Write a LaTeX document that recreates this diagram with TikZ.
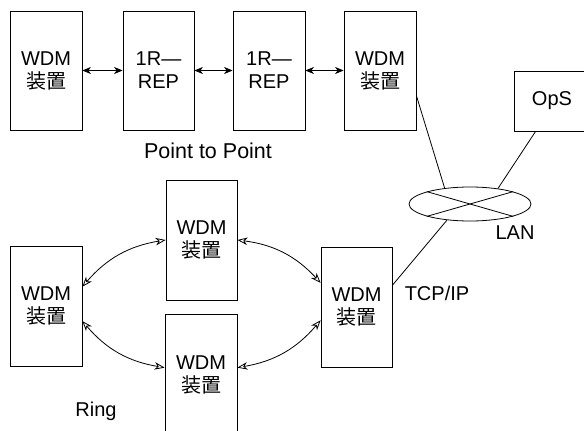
\documentclass[tikz,border=0pt]{standalone}
\usepackage{fontspec}
\setmainfont{Liberation Sans}
\newfontfamily\jpfont{Noto Sans CJK JP}
\usetikzlibrary{arrows.meta,shapes.geometric,calc}

\begin{document}
\begin{tikzpicture}[x=1pt,y=-1pt,
  unit/.style={draw, line width=0.8pt, inner sep=0pt, align=center,
    minimum width=72pt, minimum height=120pt,
    font=\fontsize{20}{23}\selectfont},
  lbl/.style={inner sep=0pt, font=\fontsize{20}{23}\selectfont},
  link/.style={line width=0.8pt},
  pp/.style={line width=0.8pt, {Stealth[length=8.5pt,width=7pt,inset=2.5pt]}-{Stealth[length=8.5pt,width=7pt,inset=2.5pt]}},
  ring/.style={line width=0.8pt,
    {Stealth[open,length=10pt,width=7.5pt,inset=3pt]}-{Stealth[open,length=10pt,width=7.5pt,inset=3pt]}}]

% canvas
\fill[white] (0,0) rectangle (584,431);
\useasboundingbox (0,0) rectangle (584,431);

% point-to-point chain
\node[unit, minimum height=119pt] (w1) at (46,70.5) {WDM\\{\jpfont 装置}};
\node[unit, minimum height=119pt, minimum width=71pt] (r1) at (158.5,70.5) {1R—\\REP};
\node[unit, minimum height=119pt] (r2) at (269,70.5) {1R—\\REP};
\node[unit, minimum height=119pt] (w4) at (380,70.5) {WDM\\{\jpfont 装置}};
\node[lbl, font=\fontsize{21.5}{24}\selectfont] (ptp) at (208,151) {Point to Point};

\draw[pp] (w1.east) -- (r1.west);
\draw[pp] (r1.east) -- (r2.west);
\draw[pp] (r2.east) -- (w4.west);

% operation system and LAN
\node[unit, minimum width=76pt, minimum height=60pt] (ops) at (552,101) {OpS};
\node[draw, ellipse, line width=0.8pt, inner sep=0pt,
      minimum width=122pt, minimum height=34pt] (lan) at (470,204) {};
\draw[link] (lan.16) -- (lan.196);
\draw[link] (lan.164) -- (lan.-16);
\node[lbl] (lanlbl) at (515,233) {LAN};

% ring
\node[unit] (rl) at (46,306) {WDM\\{\jpfont 装置}};
\node[unit, minimum width=71pt] (rt) at (201.5,240) {WDM\\{\jpfont 装置}};
\node[unit, minimum width=71pt] (rr) at (356.5,307) {WDM\\{\jpfont 装置}};
\node[unit, minimum height=122pt] (rb) at (201,375) {WDM\\{\jpfont 装置}};
\node[lbl, anchor=base] (ringlbl) at (96,416) {Ring};
\node[lbl] (tcp) at (437,293) {TCP/IP};

\draw[ring] ($(rl.south east)!0.66!(rl.north east)$) to[bend left=20] (rt.west);
\draw[ring] (rt.east) to[bend left=20] ($(rr.south west)!0.70!(rr.north west)$);
\draw[ring] ($(rl.south east)!0.375!(rl.north east)$) to[bend right=20] ($(rb.north west)+(0,54)$);
\draw[ring] ($(rb.north east)+(0,54)$) to[bend right=20] ($(rr.south west)!0.39!(rr.north west)$);

% LAN connections
\draw[link] ($(w4.south east)!0.29!(w4.north east)$) -- (lan.148);
\draw[link] ($(ops.south west)+(22,0)$) -- (lan.29);
\draw[link] (lan.215) -- ($(rr.south east)!0.68!(rr.north east)$);
\end{tikzpicture}
\end{document}
